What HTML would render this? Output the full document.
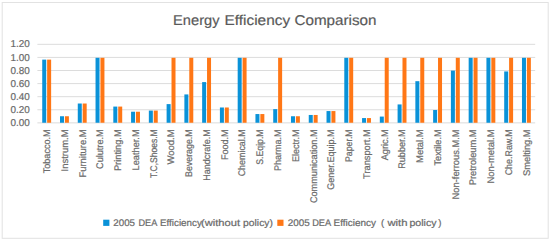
<!DOCTYPE html>
<html><head><meta charset="utf-8"><style>
html,body{margin:0;padding:0;background:#fff;}
svg{display:block;}
.t{font-family:"Liberation Sans",sans-serif;fill:#686868;stroke:#707070;stroke-width:0.22px;text-rendering:geometricPrecision;}
.ax{font-size:10.0px;}
.xl{font-size:9.6px;}
.ti{font-size:14.2px;fill:#595959;stroke:#5e5e5e;stroke-width:0.2px;}
.lg{font-size:9.6px;}
</style></head><body>
<svg width="550" height="241" viewBox="0 0 550 241">
<rect x="2.2" y="2.5" width="546" height="235.8" fill="#fff" stroke="#e2e2e2" stroke-width="1"/>
<line x1="37.4" x2="535.2" y1="122.87" y2="122.87" stroke="#dcdcdc" stroke-width="1"/>
<text x="29.9" y="125.97" text-anchor="end" class="t ax" textLength="19.3" lengthAdjust="spacingAndGlyphs">0.00</text>
<line x1="37.4" x2="535.2" y1="109.78" y2="109.78" stroke="#dcdcdc" stroke-width="1"/>
<text x="29.9" y="112.88" text-anchor="end" class="t ax" textLength="19.3" lengthAdjust="spacingAndGlyphs">0.20</text>
<line x1="37.4" x2="535.2" y1="96.69" y2="96.69" stroke="#dcdcdc" stroke-width="1"/>
<text x="29.9" y="99.79" text-anchor="end" class="t ax" textLength="19.3" lengthAdjust="spacingAndGlyphs">0.40</text>
<line x1="37.4" x2="535.2" y1="83.60" y2="83.60" stroke="#dcdcdc" stroke-width="1"/>
<text x="29.9" y="86.70" text-anchor="end" class="t ax" textLength="19.3" lengthAdjust="spacingAndGlyphs">0.60</text>
<line x1="37.4" x2="535.2" y1="70.51" y2="70.51" stroke="#dcdcdc" stroke-width="1"/>
<text x="29.9" y="73.61" text-anchor="end" class="t ax" textLength="19.3" lengthAdjust="spacingAndGlyphs">0.80</text>
<line x1="37.4" x2="535.2" y1="57.42" y2="57.42" stroke="#dcdcdc" stroke-width="1"/>
<text x="29.9" y="60.52" text-anchor="end" class="t ax" textLength="19.3" lengthAdjust="spacingAndGlyphs">1.00</text>
<line x1="37.4" x2="535.2" y1="44.33" y2="44.33" stroke="#dcdcdc" stroke-width="1"/>
<text x="29.9" y="47.43" text-anchor="end" class="t ax" textLength="19.3" lengthAdjust="spacingAndGlyphs">1.20</text>
<rect x="42.23" y="59.62" width="4.0" height="63.13" fill="#0a92d8"/>
<rect x="47.13" y="59.62" width="4.0" height="63.13" fill="#ff7716"/>
<text transform="translate(49.98,129.4) rotate(-90)" text-anchor="end" class="t xl" textLength="43.9" lengthAdjust="spacingAndGlyphs">Tobacco.M</text>
<rect x="60.00" y="116.25" width="4.0" height="6.50" fill="#0a92d8"/>
<rect x="64.90" y="116.25" width="4.0" height="6.50" fill="#ff7716"/>
<text transform="translate(67.75,129.4) rotate(-90)" text-anchor="end" class="t xl" textLength="42.1" lengthAdjust="spacingAndGlyphs">Instrum.M</text>
<rect x="77.77" y="103.52" width="4.0" height="19.23" fill="#0a92d8"/>
<rect x="82.67" y="103.52" width="4.0" height="19.23" fill="#ff7716"/>
<text transform="translate(85.52,129.4) rotate(-90)" text-anchor="end" class="t xl" textLength="48.2" lengthAdjust="spacingAndGlyphs">Furniture.M</text>
<rect x="95.54" y="57.80" width="4.0" height="64.95" fill="#0a92d8"/>
<rect x="100.44" y="57.80" width="4.0" height="64.95" fill="#ff7716"/>
<text transform="translate(103.29,129.4) rotate(-90)" text-anchor="end" class="t xl" textLength="39.5" lengthAdjust="spacingAndGlyphs">Culutre.M</text>
<rect x="113.31" y="106.58" width="4.0" height="16.17" fill="#0a92d8"/>
<rect x="118.21" y="106.58" width="4.0" height="16.17" fill="#ff7716"/>
<text transform="translate(121.06,129.4) rotate(-90)" text-anchor="end" class="t xl" textLength="41.7" lengthAdjust="spacingAndGlyphs">Printing.M</text>
<rect x="131.07" y="111.71" width="4.0" height="11.04" fill="#0a92d8"/>
<rect x="135.97" y="111.71" width="4.0" height="11.04" fill="#ff7716"/>
<text transform="translate(138.82,129.4) rotate(-90)" text-anchor="end" class="t xl" textLength="41.0" lengthAdjust="spacingAndGlyphs">Leather.M</text>
<rect x="148.84" y="110.60" width="4.0" height="12.15" fill="#0a92d8"/>
<rect x="153.74" y="110.60" width="4.0" height="12.15" fill="#ff7716"/>
<text transform="translate(156.59,129.4) rotate(-90)" text-anchor="end" class="t xl" textLength="48.7" lengthAdjust="spacingAndGlyphs">T.C,Shoes.M</text>
<rect x="166.61" y="104.11" width="4.0" height="18.64" fill="#0a92d8"/>
<rect x="171.51" y="57.80" width="4.0" height="64.95" fill="#ff7716"/>
<text transform="translate(174.36,129.4) rotate(-90)" text-anchor="end" class="t xl" textLength="35.1" lengthAdjust="spacingAndGlyphs">Wood.M</text>
<rect x="184.38" y="94.43" width="4.0" height="28.32" fill="#0a92d8"/>
<rect x="189.28" y="57.80" width="4.0" height="64.95" fill="#ff7716"/>
<text transform="translate(192.13,129.4) rotate(-90)" text-anchor="end" class="t xl" textLength="47.6" lengthAdjust="spacingAndGlyphs">Beverage.M</text>
<rect x="202.14" y="82.09" width="4.0" height="40.66" fill="#0a92d8"/>
<rect x="207.04" y="57.80" width="4.0" height="64.95" fill="#ff7716"/>
<text transform="translate(209.89,129.4) rotate(-90)" text-anchor="end" class="t xl" textLength="51.3" lengthAdjust="spacingAndGlyphs">Handcrafe.M</text>
<rect x="219.91" y="107.49" width="4.0" height="15.26" fill="#0a92d8"/>
<rect x="224.81" y="107.49" width="4.0" height="15.26" fill="#ff7716"/>
<text transform="translate(227.66,129.4) rotate(-90)" text-anchor="end" class="t xl" textLength="30.7" lengthAdjust="spacingAndGlyphs">Food.M</text>
<rect x="237.68" y="57.80" width="4.0" height="64.95" fill="#0a92d8"/>
<rect x="242.58" y="57.80" width="4.0" height="64.95" fill="#ff7716"/>
<text transform="translate(245.43,129.4) rotate(-90)" text-anchor="end" class="t xl" textLength="46.9" lengthAdjust="spacingAndGlyphs">Chemical.M</text>
<rect x="255.45" y="114.05" width="4.0" height="8.70" fill="#0a92d8"/>
<rect x="260.35" y="114.05" width="4.0" height="8.70" fill="#ff7716"/>
<text transform="translate(263.20,129.4) rotate(-90)" text-anchor="end" class="t xl" textLength="35.3" lengthAdjust="spacingAndGlyphs">S.Eqip.M</text>
<rect x="273.22" y="109.11" width="4.0" height="13.64" fill="#0a92d8"/>
<rect x="278.12" y="57.80" width="4.0" height="64.95" fill="#ff7716"/>
<text transform="translate(280.97,129.4) rotate(-90)" text-anchor="end" class="t xl" textLength="41.7" lengthAdjust="spacingAndGlyphs">Pharma.M</text>
<rect x="290.98" y="116.25" width="4.0" height="6.50" fill="#0a92d8"/>
<rect x="295.88" y="116.25" width="4.0" height="6.50" fill="#ff7716"/>
<text transform="translate(298.73,129.4) rotate(-90)" text-anchor="end" class="t xl" textLength="32.6" lengthAdjust="spacingAndGlyphs">Electr.M</text>
<rect x="308.75" y="114.96" width="4.0" height="7.79" fill="#0a92d8"/>
<rect x="313.65" y="114.96" width="4.0" height="7.79" fill="#ff7716"/>
<text transform="translate(316.50,129.4) rotate(-90)" text-anchor="end" class="t xl" textLength="73.7" lengthAdjust="spacingAndGlyphs">Communication.M</text>
<rect x="326.52" y="111.06" width="4.0" height="11.69" fill="#0a92d8"/>
<rect x="331.42" y="111.06" width="4.0" height="11.69" fill="#ff7716"/>
<text transform="translate(334.27,129.4) rotate(-90)" text-anchor="end" class="t xl" textLength="60.4" lengthAdjust="spacingAndGlyphs">Gener.Equip.M</text>
<rect x="344.29" y="57.80" width="4.0" height="64.95" fill="#0a92d8"/>
<rect x="349.19" y="57.80" width="4.0" height="64.95" fill="#ff7716"/>
<text transform="translate(352.04,129.4) rotate(-90)" text-anchor="end" class="t xl" textLength="32.6" lengthAdjust="spacingAndGlyphs">Paper.M</text>
<rect x="362.06" y="118.07" width="4.0" height="4.68" fill="#0a92d8"/>
<rect x="366.96" y="118.07" width="4.0" height="4.68" fill="#ff7716"/>
<text transform="translate(369.81,129.4) rotate(-90)" text-anchor="end" class="t xl" textLength="49.5" lengthAdjust="spacingAndGlyphs">Transport.M</text>
<rect x="379.82" y="116.58" width="4.0" height="6.17" fill="#0a92d8"/>
<rect x="384.72" y="57.80" width="4.0" height="64.95" fill="#ff7716"/>
<text transform="translate(387.57,129.4) rotate(-90)" text-anchor="end" class="t xl" textLength="30.8" lengthAdjust="spacingAndGlyphs">Agric.M</text>
<rect x="397.59" y="104.43" width="4.0" height="18.32" fill="#0a92d8"/>
<rect x="402.49" y="57.80" width="4.0" height="64.95" fill="#ff7716"/>
<text transform="translate(405.34,129.4) rotate(-90)" text-anchor="end" class="t xl" textLength="39.4" lengthAdjust="spacingAndGlyphs">Rubber.M</text>
<rect x="415.36" y="81.18" width="4.0" height="41.57" fill="#0a92d8"/>
<rect x="420.26" y="57.80" width="4.0" height="64.95" fill="#ff7716"/>
<text transform="translate(423.11,129.4) rotate(-90)" text-anchor="end" class="t xl" textLength="33.5" lengthAdjust="spacingAndGlyphs">Metal.M</text>
<rect x="433.13" y="110.02" width="4.0" height="12.73" fill="#0a92d8"/>
<rect x="438.03" y="57.80" width="4.0" height="64.95" fill="#ff7716"/>
<text transform="translate(440.88,129.4) rotate(-90)" text-anchor="end" class="t xl" textLength="36.1" lengthAdjust="spacingAndGlyphs">Textile.M</text>
<rect x="450.89" y="70.60" width="4.0" height="52.15" fill="#0a92d8"/>
<rect x="455.79" y="57.80" width="4.0" height="64.95" fill="#ff7716"/>
<text transform="translate(458.64,129.4) rotate(-90)" text-anchor="end" class="t xl" textLength="70.0" lengthAdjust="spacingAndGlyphs">Non-ferrous.M.M</text>
<rect x="468.66" y="57.80" width="4.0" height="64.95" fill="#0a92d8"/>
<rect x="473.56" y="57.80" width="4.0" height="64.95" fill="#ff7716"/>
<text transform="translate(476.41,129.4) rotate(-90)" text-anchor="end" class="t xl" textLength="55.8" lengthAdjust="spacingAndGlyphs">Pretroleum.M</text>
<rect x="486.43" y="57.80" width="4.0" height="64.95" fill="#0a92d8"/>
<rect x="491.33" y="57.80" width="4.0" height="64.95" fill="#ff7716"/>
<text transform="translate(494.18,129.4) rotate(-90)" text-anchor="end" class="t xl" textLength="54.1" lengthAdjust="spacingAndGlyphs">Non-metal.M</text>
<rect x="504.20" y="71.44" width="4.0" height="51.31" fill="#0a92d8"/>
<rect x="509.10" y="57.80" width="4.0" height="64.95" fill="#ff7716"/>
<text transform="translate(511.95,129.4) rotate(-90)" text-anchor="end" class="t xl" textLength="45.9" lengthAdjust="spacingAndGlyphs">Che.Raw.M</text>
<rect x="521.97" y="57.80" width="4.0" height="64.95" fill="#0a92d8"/>
<rect x="526.87" y="57.80" width="4.0" height="64.95" fill="#ff7716"/>
<text transform="translate(529.72,129.4) rotate(-90)" text-anchor="end" class="t xl" textLength="46.6" lengthAdjust="spacingAndGlyphs">Smelting.M</text>
<text x="173.10" y="24.9" class="t ti" textLength="46.40" lengthAdjust="spacingAndGlyphs">Energy</text>
<text x="224.50" y="24.9" class="t ti" textLength="65.60" lengthAdjust="spacingAndGlyphs">Efficiency</text>
<text x="294.50" y="24.9" class="t ti" textLength="82.00" lengthAdjust="spacingAndGlyphs">Comparison</text>
<text x="113.30" y="225.7" class="t lg" textLength="21.70" lengthAdjust="spacingAndGlyphs">2005</text>
<text x="138.50" y="225.7" class="t lg" textLength="18.80" lengthAdjust="spacingAndGlyphs">DEA</text>
<text x="160.00" y="225.7" class="t lg" textLength="41.80" lengthAdjust="spacingAndGlyphs">Efficiency</text>
<text x="201.00" y="225.7" class="t lg" textLength="39.10" lengthAdjust="spacingAndGlyphs">(without</text>
<text x="243.10" y="225.7" class="t lg" textLength="29.80" lengthAdjust="spacingAndGlyphs">policy)</text>
<text x="287.70" y="225.7" class="t lg" textLength="22.00" lengthAdjust="spacingAndGlyphs">2005</text>
<text x="312.20" y="225.7" class="t lg" textLength="19.00" lengthAdjust="spacingAndGlyphs">DEA</text>
<text x="333.60" y="225.7" class="t lg" textLength="42.50" lengthAdjust="spacingAndGlyphs">Efficiency</text>
<text x="380.90" y="225.7" class="t lg">(</text>
<text x="387.40" y="225.7" class="t lg" textLength="20.10" lengthAdjust="spacingAndGlyphs">with</text>
<text x="409.40" y="225.7" class="t lg" textLength="27.10" lengthAdjust="spacingAndGlyphs">policy</text>
<text x="438.20" y="225.7" class="t lg">)</text>
<rect x="103.2" y="219.7" width="6.2" height="6.2" fill="#0a92d8"/>
<rect x="277.3" y="219.7" width="6.2" height="6.2" fill="#ff7716"/>
</svg>
</body></html>
